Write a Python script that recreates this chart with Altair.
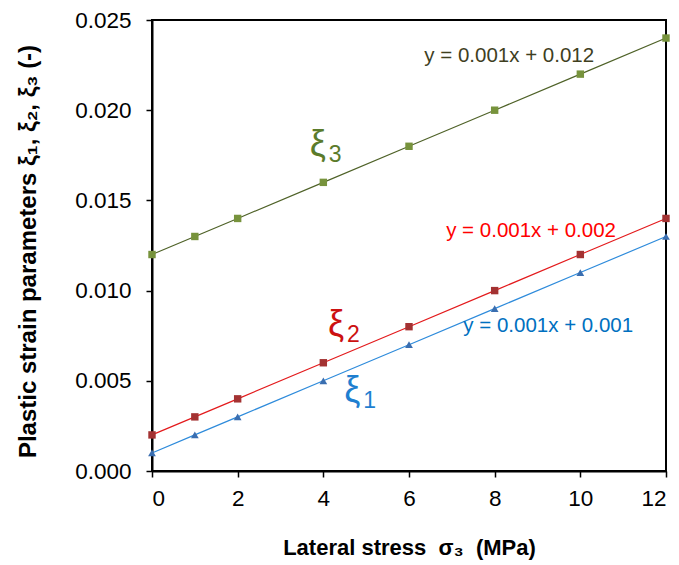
import altair as alt
import pandas as pd

# ---- data ----
sigma3 = [0, 1, 2, 4, 6, 8, 10, 12]
xi1 = [0.001, 0.002, 0.003, 0.005, 0.007, 0.009, 0.011, 0.013]
xi2 = [0.002, 0.003, 0.004, 0.006, 0.008, 0.010, 0.012, 0.014]
xi3 = [0.012, 0.013, 0.014, 0.016, 0.018, 0.020, 0.022, 0.024]

x_ticks = [0, 2, 4, 6, 8, 10, 12]
y_ticks = [0.0, 0.005, 0.010, 0.015, 0.020, 0.025]

eq_text = ["y = 0.001x + 0.012", "y = 0.001x + 0.002", "y = 0.001x + 0.001"]
eq_x = [8.34, 8.85, 9.25]
eq_y = [0.02267, 0.01297, 0.0077]
eq_color = ["#3F3F1F", "#FF0000", "#0070C0"]

lab_sub = ["3", "2", "1"]
lab_x = [3.68, 4.11, 4.49]
lab_y = [0.01746, 0.00748, 0.00382]
lab_color = ["#5B7B2B", "#CC1111", "#1F7FD0"]

FONT = "Liberation Sans"
SP = "\u00a0\u00a0"
SP1 = "\u00a0"

xs = alt.Scale(domain=[0, 12], nice=False, zero=False)
ys = alt.Scale(domain=[0, 0.025], nice=False)

def series(vals, line_color, mark_color, shape, size, first=False):
    df = pd.DataFrame({"x": sigma3, "y": vals})
    if first:
        xenc = alt.X("x:Q", scale=xs,
                     axis=alt.Axis(values=x_ticks, format="d",
                                   title=f"Lateral stress{SP}σ₃{SP}(MPa)"))
        yenc = alt.Y("y:Q", scale=ys,
                     axis=alt.Axis(values=y_ticks, format=".3f", titleY=231,
                                   title=f"Plastic strain parameters{SP1}ξ₁, ξ₂, ξ₃{SP1}(-)"))
    else:
        xenc = alt.X("x:Q", scale=xs)
        yenc = alt.Y("y:Q", scale=ys)
    line = alt.Chart(df).mark_line(color=line_color, strokeWidth=1.2).encode(x=xenc, y=yenc)
    pts = alt.Chart(df).mark_point(shape=shape, filled=True, color=mark_color, size=size,
                                   opacity=1).encode(x="x:Q", y="y:Q")
    return line + pts

s3 = series(xi3, "#4F6228", "#77933C", "square", 55, first=True)
s2 = series(xi2, "#E31A1C", "#A33232", "square", 55)
s1 = series(xi1, "#2E8BDB", "#3A6EB0", "triangle-up", 60)

eq_df = pd.DataFrame({"t": eq_text, "x": eq_x, "y": eq_y, "c": eq_color})
eqs = alt.Chart(eq_df).mark_text(font=FONT, fontSize=20.5, align="center",
                                 baseline="alphabetic").encode(
    x="x:Q", y="y:Q", text="t:N", color=alt.Color("c:N", scale=None))

lab_df = pd.DataFrame({"s": lab_sub, "x": lab_x, "y": lab_y, "c": lab_color,
                       "xi": ["ξ", "ξ", "ξ"]})
xi_txt = alt.Chart(lab_df).mark_text(font=FONT, fontSize=36, align="left",
                                     baseline="alphabetic").encode(
    x="x:Q", y="y:Q", text="xi:N", color=alt.Color("c:N", scale=None))
sub_txt = alt.Chart(lab_df).mark_text(font=FONT, fontSize=23, align="left",
                                      baseline="alphabetic", dx=19, dy=6).encode(
    x="x:Q", y="y:Q", text="s:N", color=alt.Color("c:N", scale=None))

chart = alt.layer(s3, s2, s1, eqs, xi_txt, sub_txt).properties(
    width=514, height=451,
    autosize=alt.AutoSizeParams(type="none"),
    padding={"left": 152, "top": 20, "right": 13, "bottom": 94},
).configure_view(
    stroke="black", strokeWidth=2
).configure_axis(
    grid=False,
    domainColor="black", domainWidth=2,
    tickColor="black", tickSize=6, tickWidth=1.5,
    labelFont=FONT, labelFontSize=22.5, labelColor="black",
    titleFont=FONT, titleFontWeight="bold", titleColor="black",
).configure_axisX(
    labelPadding=10, titlePadding=28, titleFontSize=22,
).configure_axisY(
    labelPadding=15, titlePadding=34, titleFontSize=24,
)

chart.save("out.html", embed_options={"renderer": "svg", "actions": False})
